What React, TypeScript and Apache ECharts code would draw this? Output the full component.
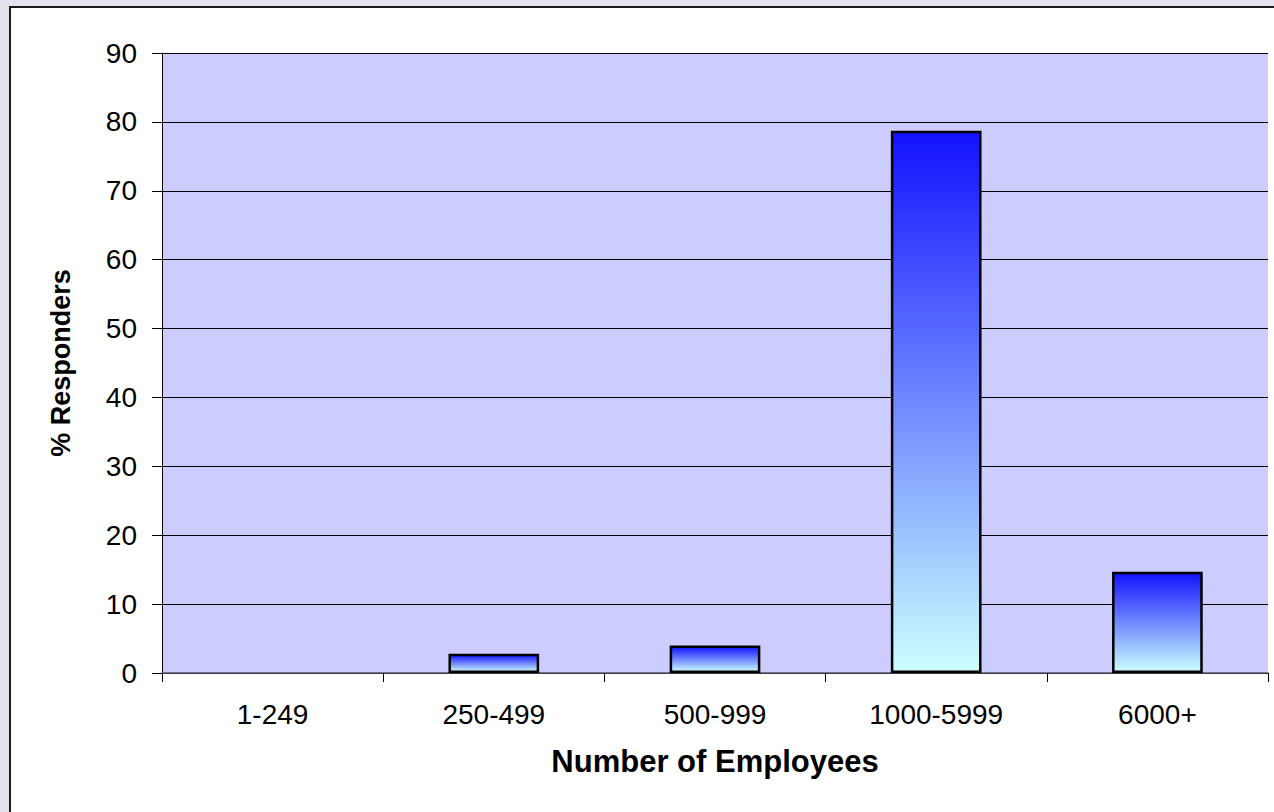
import React, { useEffect, useRef } from "react";
import * as echarts from "echarts";

const categories: string[] = ["1-249", "250-499", "500-999", "1000-5999", "6000+"];
const responders: number[] = [0, 2.8, 4.0, 78.7, 14.7];
const yTicks = { min: 0, max: 90, interval: 10 };
const xTitle = "Number of Employees";
const yTitle = "% Responders";

const FONT = "'Liberation Sans', Arial, Helvetica, sans-serif";

export default function App() {
  const ref = useRef<HTMLDivElement>(null);

  useEffect(() => {
    document.body.style.margin = "0";
    if (!ref.current) return;
    const chart = echarts.init(ref.current, undefined, { renderer: "svg" });
    const option: any = {
      animation: false,
      backgroundColor: "transparent",
      textStyle: { fontFamily: FONT },
      grid: {
        left: 162,
        top: 53,
        right: 6,
        bottom: 139,
        show: true,
        backgroundColor: "#CCCCFF",
        borderWidth: 0,
        containLabel: false,
      },
      xAxis: {
        type: "category",
        data: categories,
        boundaryGap: true,
        name: xTitle,
        nameLocation: "middle",
        nameGap: 73,
        nameTextStyle: { fontFamily: FONT, fontSize: 31, fontWeight: "bold", color: "#000" },
        axisLine: { show: true, lineStyle: { color: "#555566", width: 1.5 } },
        axisTick: { show: true, alignWithLabel: false, length: 9, lineStyle: { color: "#000", width: 1 } },
        axisLabel: { fontFamily: FONT, fontSize: 28, color: "#000", margin: 27, interval: 0 },
        splitLine: { show: false },
      },
      yAxis: {
        type: "value",
        min: yTicks.min,
        max: yTicks.max,
        interval: yTicks.interval,
        name: yTitle,
        nameLocation: "middle",
        nameRotate: 90,
        nameGap: 88,
        nameTextStyle: { fontFamily: FONT, fontSize: 27, fontWeight: "bold", color: "#000" },
        axisLine: { show: true, lineStyle: { color: "#000", width: 1 } },
        axisTick: { show: true, inside: false, length: 10, lineStyle: { color: "#000", width: 1 } },
        axisLabel: { fontFamily: FONT, fontSize: 28, color: "#000", margin: 25 },
        splitLine: { show: true, lineStyle: { color: "#000", width: 1 } },
      },
      series: [
        {
          type: "bar",
          data: responders.map((v) => (v === 0 ? null : v)),
          barWidth: "41%",
          itemStyle: {
            color: new echarts.graphic.LinearGradient(0, 0, 0, 1, [
              { offset: 0, color: "#1212FF" },
              { offset: 1, color: "#CCFFFF" },
            ]),
            borderColor: "#000",
            borderWidth: 2.5,
          },
          emphasis: { disabled: true },
        },
      ],
    };
    chart.setOption(option);
    return () => chart.dispose();
  }, []);

  return (
    <div
      style={{
        position: "relative",
        width: 1274,
        height: 812,
        overflow: "hidden",
        background: "#E5E2EE",
      }}
    >
      <div
        style={{
          position: "absolute",
          left: 9,
          top: 6,
          width: 1300,
          height: 900,
          border: "2px solid #1a1a1a",
          background: "#FFFFFF",
        }}
      />
      <div ref={ref} style={{ position: "absolute", left: 0, top: 0, width: 1274, height: 812 }} />
    </div>
  );
}
